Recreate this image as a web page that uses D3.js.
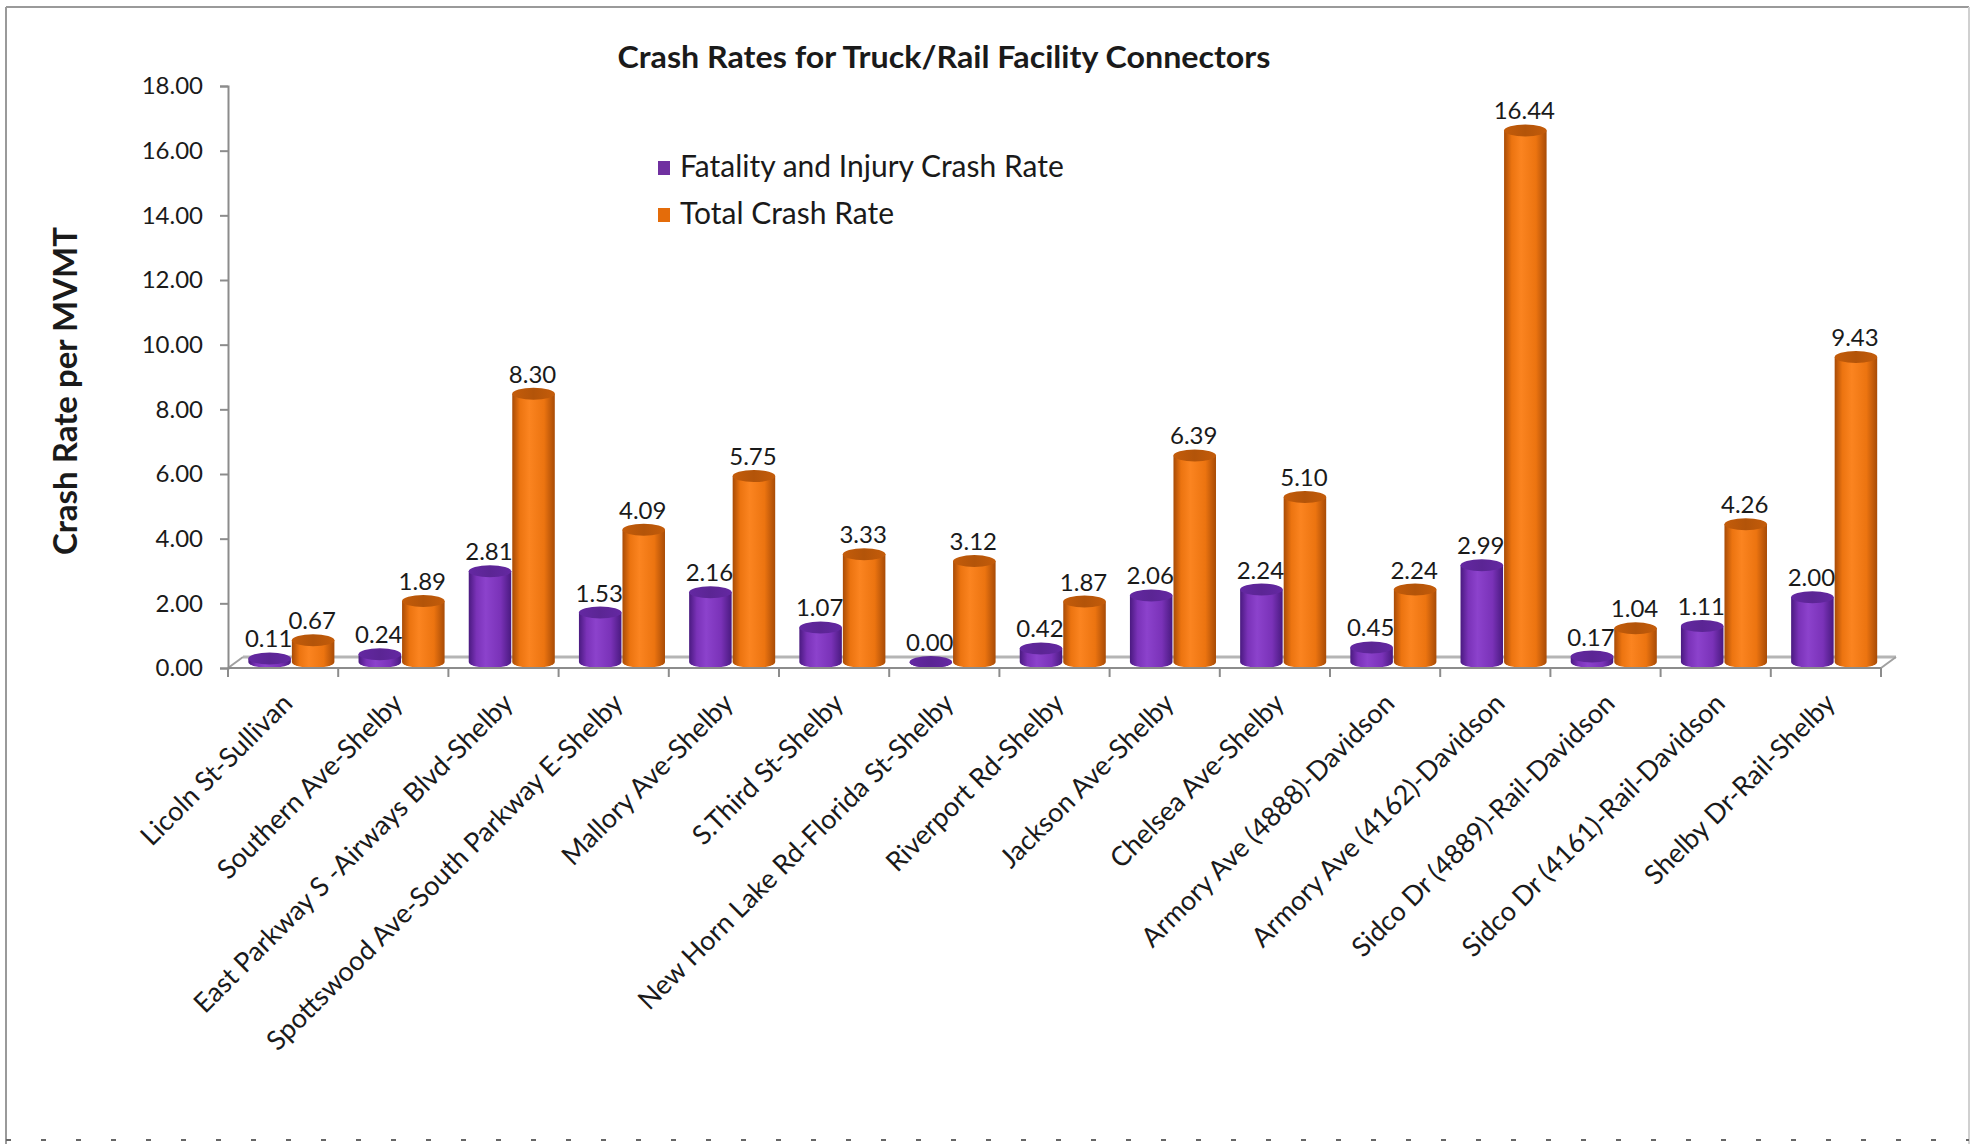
<!DOCTYPE html>
<html>
<head>
<meta charset="utf-8">
<script src="https://cdn.jsdelivr.net/npm/d3@7"></script>
<style>
  html, body { margin: 0; padding: 0; background: #ffffff; }
  svg { display: block; }
  text { font-family: Lato, "Open Sans", sans-serif; fill: #1a1a1a; }
</style>
</head>
<body>
<svg id="chart" width="1976" height="1144"></svg>
<script>
// Connector names along the category axis
const categories = [
  "Licoln St-Sullivan",
  "Southern Ave-Shelby",
  "East Parkway S -Airways Blvd-Shelby",
  "Spottswood Ave-South Parkway E-Shelby",
  "Mallory Ave-Shelby",
  "S.Third St-Shelby",
  "New Horn Lake Rd-Florida St-Shelby",
  "Riverport Rd-Shelby",
  "Jackson Ave-Shelby",
  "Chelsea Ave-Shelby",
  "Armory Ave (4888)-Davidson",
  "Armory Ave (4162)-Davidson",
  "Sidco Dr (4889)-Rail-Davidson",
  "Sidco Dr (4161)-Rail-Davidson",
  "Shelby Dr-Rail-Shelby"
];

// Crash rates per million vehicle miles travelled
const fatalityInjuryRate = [0.11, 0.24, 2.81, 1.53, 2.16, 1.07, 0.00, 0.42, 2.06, 2.24, 0.45, 2.99, 0.17, 1.11, 2.00];
const totalCrashRate     = [0.67, 1.89, 8.30, 4.09, 5.75, 3.33, 3.12, 1.87, 6.39, 5.10, 2.24, 16.44, 1.04, 4.26, 9.43];

const seriesNames = ["Fatality and Injury Crash Rate", "Total Crash Rate"];
const yTicks = [0, 2, 4, 6, 8, 10, 12, 14, 16, 18];

const chartTitle = "Crash Rates for Truck/Rail Facility Connectors";
const yTitle = "Crash Rate per MVMT";

const palette = {
  "Fatality and Injury Crash Rate": { edge: "#4a1a80", mid: "#7a32b8", light: "#8c42cc", top: "#6428a2", key: "#7030a0" },
  "Total Crash Rate":               { edge: "#a84b06", mid: "#ec7410", light: "#fb8420", top: "#c45c0a", key: "#e46c0a" }
};

const svg = d3.select("#chart");

// ---- layout ----
const plot = { left: 228, right: 1881, top: 86, bottom: 668 };
const depth = { dx: 15, dy: -11 };

const y = d3.scaleLinear().domain([0, 18]).range([plot.bottom, plot.top]);
const x = d3.scaleBand().domain(categories).range([plot.left, plot.right]).padding(0);
const bw = x.bandwidth();
const inner = d3.scaleBand().domain(seriesNames).range([bw * 0.18, bw * 0.97]).padding(0);

// ---- frame around the chart area ----
const frame = svg.append("g").attr("stroke", "#9a9a9a").attr("fill", "none");
frame.append("line").attr("x1", 6).attr("y1", 7).attr("x2", 1969).attr("y2", 7).attr("stroke-width", 2);
frame.append("line").attr("x1", 6).attr("y1", 7).attr("x2", 6).attr("y2", 1144).attr("stroke-width", 2);
frame.append("line").attr("x1", 1969).attr("y1", 7).attr("x2", 1969).attr("y2", 1144).attr("stroke", "#d0d0d0").attr("stroke-width", 2);
frame.append("line").attr("x1", 6).attr("y1", 1140).attr("x2", 1969).attr("y2", 1140)
  .attr("stroke", "#666").attr("stroke-width", 2).attr("stroke-dasharray", "5 30");

// ---- gradients for the cylinders ----
const defs = svg.append("defs");
seriesNames.forEach((s, i) => {
  const c = palette[s];
  const g = defs.append("linearGradient").attr("id", "body" + i).attr("x1", "0%").attr("x2", "100%");
  g.append("stop").attr("offset", "0%").attr("stop-color", c.edge);
  g.append("stop").attr("offset", "18%").attr("stop-color", c.mid);
  g.append("stop").attr("offset", "40%").attr("stop-color", c.light);
  g.append("stop").attr("offset", "75%").attr("stop-color", c.mid);
  g.append("stop").attr("offset", "100%").attr("stop-color", c.edge);
  const t = defs.append("linearGradient").attr("id", "top" + i).attr("x1", "0%").attr("x2", "100%");
  t.append("stop").attr("offset", "0%").attr("stop-color", c.top);
  t.append("stop").attr("offset", "50%").attr("stop-color", d3.color(c.top).darker(0.25));
  t.append("stop").attr("offset", "100%").attr("stop-color", c.top);
});

// ---- floor of the 3D plot ----
const floor = svg.append("g").attr("fill", "none");
floor.append("line")
  .attr("x1", plot.left + depth.dx).attr("y1", plot.bottom + depth.dy)
  .attr("x2", plot.right + depth.dx).attr("y2", plot.bottom + depth.dy)
  .attr("stroke", "#b5b5b5").attr("stroke-width", 3);
floor.append("line")
  .attr("x1", plot.left).attr("y1", plot.bottom)
  .attr("x2", plot.left + depth.dx).attr("y2", plot.bottom + depth.dy)
  .attr("stroke", "#a0a0a0").attr("stroke-width", 2);
floor.append("line")
  .attr("x1", plot.right).attr("y1", plot.bottom)
  .attr("x2", plot.right + depth.dx).attr("y2", plot.bottom + depth.dy)
  .attr("stroke", "#a0a0a0").attr("stroke-width", 2);

// ---- cylinders ----
const rows = categories.map((c, i) => ({
  cat: c,
  values: [fatalityInjuryRate[i], totalCrashRate[i]]
}));

const off = 6;      // lift of the cylinder axis above the front floor edge
const ry = 6;       // vertical radius of the cylinder ends
const rx = inner.bandwidth() / 2 - 0.5;

const groups = svg.append("g").selectAll("g.grp").data(rows).join("g").attr("class", "grp")
  .attr("transform", d => `translate(${x(d.cat)},0)`);

groups.each(function(d) {
  const g = d3.select(this);
  d.values.forEach((v, si) => {
    const s = seriesNames[si];
    const cx = inner(s) + inner.bandwidth() / 2;
    const yTop = y(v) - off;
    const yBot = y(0) - off;
    g.append("path")
      .attr("d", `M${cx - rx},${yTop} L${cx - rx},${yBot} A${rx},${ry} 0 0 0 ${cx + rx},${yBot} L${cx + rx},${yTop} Z`)
      .attr("fill", `url(#body${si})`);
    g.append("ellipse")
      .attr("cx", cx).attr("cy", yTop).attr("rx", rx).attr("ry", ry)
      .attr("fill", `url(#top${si})`);
  });
});

// ---- data labels ----
groups.each(function(d) {
  const g = d3.select(this);
  d.values.forEach((v, si) => {
    const s = seriesNames[si];
    const cx = inner(s) + inner.bandwidth() / 2 - 1;
    g.append("text")
      .attr("x", cx).attr("y", y(v) - 17)
      .attr("text-anchor", "middle")
      .attr("font-size", 24)
      .text(v.toFixed(2));
  });
});

// ---- y axis ----
const yAxis = svg.append("g")
  .attr("transform", `translate(${plot.left},0)`)
  .call(d3.axisLeft(y).tickValues(yTicks).tickFormat(d3.format(".2f")).tickSize(8).tickPadding(17));
yAxis.select(".domain").attr("stroke", "#8c8c8c").attr("stroke-width", 2);
yAxis.selectAll(".tick line").attr("stroke", "#8c8c8c").attr("stroke-width", 2);
yAxis.selectAll(".tick text").attr("font-size", 24).attr("font-family", "Lato, sans-serif").attr("fill", "#1a1a1a");

// ---- x axis (front floor edge with category ticks) ----
svg.append("line")
  .attr("x1", plot.left).attr("y1", plot.bottom).attr("x2", plot.right).attr("y2", plot.bottom)
  .attr("stroke", "#8c8c8c").attr("stroke-width", 2);
svg.append("g").selectAll("line").data(d3.range(categories.length + 1)).join("line")
  .attr("x1", i => plot.left + i * bw).attr("x2", i => plot.left + i * bw)
  .attr("y1", plot.bottom).attr("y2", plot.bottom + 9)
  .attr("stroke", "#8c8c8c").attr("stroke-width", 2);

svg.append("g").selectAll("text").data(categories).join("text")
  .attr("transform", c => `translate(${x(c) + bw / 2 + 11},${plot.bottom + 37}) rotate(-45)`)
  .attr("text-anchor", "end")
  .attr("font-size", 27)
  .text(c => c);

// ---- titles ----
svg.append("text")
  .attr("x", 944).attr("y", 68)
  .attr("text-anchor", "middle")
  .attr("font-size", 30).attr("font-weight", "bold")
  .attr("textLength", 653).attr("lengthAdjust", "spacingAndGlyphs")
  .attr("fill", "#111")
  .text(chartTitle);

svg.append("text")
  .attr("transform", `translate(77,391) rotate(-90)`)
  .attr("text-anchor", "middle")
  .attr("font-size", 33).attr("font-weight", "bold")
  .attr("fill", "#111")
  .text(yTitle);

// ---- legend ----
const legend = svg.append("g").attr("transform", "translate(658,161)");
seriesNames.forEach((s, i) => {
  const row = legend.append("g").attr("transform", `translate(0,${i * 47})`);
  row.append("rect").attr("width", 12).attr("height", 14).attr("fill", palette[s].key);
  row.append("text").attr("x", 22).attr("y", 16).attr("font-size", 30).text(s);
});
</script>
</body>
</html>
